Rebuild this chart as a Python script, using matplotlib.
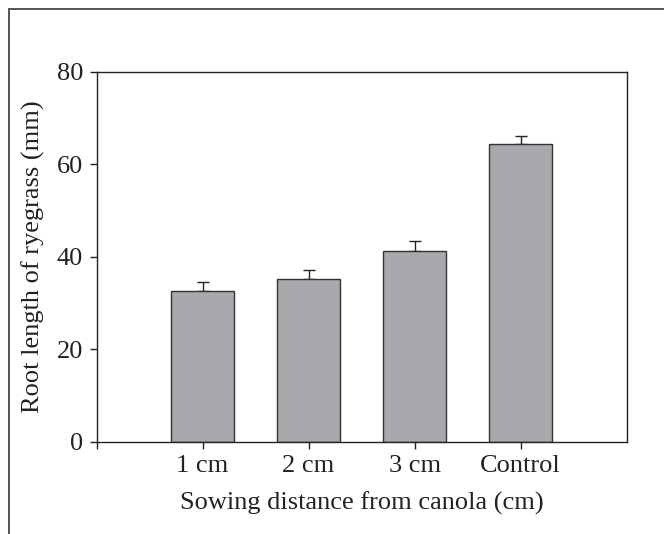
import numpy as np
import matplotlib.pyplot as plt
from matplotlib.patches import Rectangle

plt.rcParams['font.family'] = ['Liberation Serif', 'DejaVu Serif']

# data
categories = ['1 cm', '2 cm', '3 cm', 'Control']
root_length = [32.5, 35.1, 41.3, 64.3]
root_err = [2.0, 2.1, 2.0, 1.9]

fig = plt.figure(figsize=(6.64, 5.34), dpi=100)
W, H = 664, 534
ax = fig.add_axes([96.5 / W, 1 - 441.7 / H, (626.7 - 96.5) / W, (441.7 - 71.7) / H])

# outer frame, runs off the right and bottom edges
fig.patches.append(Rectangle((9 / W, -0.1), 1.2, 1 - 9 / H + 0.1, transform=fig.transFigure,
                             fill=False, edgecolor='#555555', linewidth=1.4))

x = np.arange(1, len(categories) + 1)
ax.bar(x, root_length, width=0.6, color='#a8a9ac', edgecolor='#333333', linewidth=1.0, zorder=2)
ax.errorbar(x, root_length, yerr=[np.zeros(len(root_err)), root_err], fmt='none',
            ecolor='#222222', elinewidth=1.0, capsize=4.5, capthick=1.0, zorder=1)

ax.set_xlim(0, 5)
ax.set_ylim(0, 80)
ax.set_xticks([0] + list(x))
ax.set_xticklabels([''] + categories)
ax.set_yticks([0, 20, 40, 60, 80])

for s in ax.spines.values():
    s.set_linewidth(1.0)
    s.set_color('#222222')
ax.tick_params(direction='out', length=4.8, width=1.0, color='#222222', labelsize=19,
               labelcolor='#222222', pad=5)

ax.set_xlabel('Sowing distance from canola (cm)', fontsize=19, color='#222222', labelpad=10)
ax.set_ylabel('Root length of ryegrass (mm)', fontsize=19, color='#222222', labelpad=8)

fig.savefig('out.png', dpi=100)
